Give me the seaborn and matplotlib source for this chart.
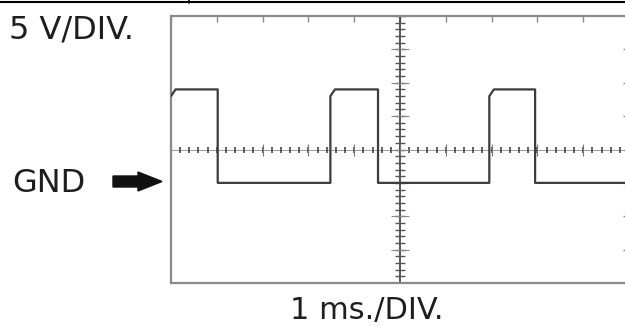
"""
Oscilloscope-style square wave trace (5 V/DIV, 1 ms/DIV) drawn with seaborn.
"""

import matplotlib.pyplot as plt
import seaborn as sns
import numpy as np
import pandas as pd
from matplotlib.lines import Line2D
from matplotlib.patches import Polygon

# ── trace (time in ms, voltage in V, GND = 0 V) ──
time_ms = [0.0, 0.1, 1.02, 1.02, 3.48, 3.48, 3.58, 4.52, 4.52,
           6.95, 6.95, 7.05, 7.95, 7.95, 10.0]
volts = [13.0, 14.0, 14.0, 0.0, 0.0, 13.0, 14.0, 14.0, 0.0,
         0.0, 13.0, 14.0, 14.0, 0.0, 0.0]

volt_label = "5 V/DIV."
time_label = "1 ms./DIV."
gnd_label = "GND"

v_per_div = 5
ms_per_div = 1
x_divs = 10
y_divs_below_gnd = 3
y_divs_above_gnd = 5

df = pd.DataFrame({"t": time_ms, "v": volts})

# ── figure ───────────────────────────────────────────────────
sns.set_style("white")
plt.rcParams["font.family"] = ["DejaVu Sans"]

W, H = 625, 327
fig = plt.figure(figsize=(W / 100, H / 100), dpi=100)

def px(x, y):
    return x / W, 1 - y / H

# screen box: left 171 px, right ~629 px (just off the picture), top 16, bottom 283
ax = fig.add_axes([171 / W, 1 - 283 / H, (629 - 171) / W, (283 - 16) / H])

xmin, xmax = 0, x_divs * ms_per_div
ymin, ymax = -y_divs_below_gnd * v_per_div, y_divs_above_gnd * v_per_div
ax.set_xlim(xmin, xmax)
ax.set_ylim(ymin, ymax)

grid_gray = "#8a8a8a"
for s in ax.spines.values():
    s.set_color(grid_gray)
    s.set_linewidth(1.6)

ax.set_xticks(np.arange(xmin, xmax + 0.01, ms_per_div))
ax.set_yticks(np.arange(ymin, ymax + 0.01, v_per_div))
ax.tick_params(direction="in", top=True, right=True, length=4, width=1,
               color=grid_gray, labelbottom=False, labelleft=False)

# centre crosshair with graticule sub-ticks
xc = (xmin + xmax) / 2
yc = (ymin + ymax) / 2
ax.axhline(yc, color="#9a9a9a", lw=0.7, zorder=1)
ax.axvline(xc, color="#3a3a3a", lw=1.2, zorder=1)

sub_x = np.arange(xmin, xmax + 0.01, ms_per_div / 5)
ax.plot(sub_x, np.full_like(sub_x, yc), ls="none", marker="|", ms=4.5,
        mew=1.2, color="#444444", zorder=2)
maj_x = np.arange(xmin, xmax + 0.01, ms_per_div)
ax.plot(maj_x, np.full_like(maj_x, yc), ls="none", marker="|", ms=8,
        mew=0.8, color="#777777", zorder=2)

sub_y = np.arange(ymin, ymax + 0.01, v_per_div / 5)
ax.plot(np.full_like(sub_y, xc), sub_y, ls="none", marker="_", ms=7,
        mew=1.0, color="#555555", zorder=2)
maj_y = np.arange(ymin, ymax + 0.01, v_per_div)
ax.plot(np.full_like(maj_y, xc), maj_y, ls="none", marker="_", ms=13,
        mew=0.8, color="#888888", zorder=2)

# waveform
sns.lineplot(data=df, x="t", y="v", sort=False, estimator=None,
             color="#3c3c3c", lw=1.6, ax=ax, zorder=3)
ax.set_xlabel("")
ax.set_ylabel("")

# ── labels and GND marker ────────────────────────────────────
fig.text(*px(9, 30), volt_label, fontsize=23, color="#1e1e1e",
         ha="left", va="center")
fig.text(*px(12, 183), gnd_label, fontsize=23, color="#1e1e1e",
         ha="left", va="center")
fig.text(*px(367, 319), time_label, fontsize=22, color="#1e1e1e",
         ha="center", va="baseline")

arrow = [(113, 176), (138, 176), (138, 172), (162, 181.5),
         (138, 191), (138, 187), (113, 187)]
fig.patches.append(Polygon([px(x, y) for x, y in arrow], closed=True,
                           transform=fig.transFigure, color="#111111"))

# frame line along the top of the picture
fig.add_artist(Line2D([0, 1], [1 - 2 / H, 1 - 2 / H], color="black", lw=1.5))
fig.add_artist(Line2D([189 / W, 189 / W], [1, 1 - 3 / H], color="black", lw=1.2))

plt.savefig("out.png", dpi=100)
